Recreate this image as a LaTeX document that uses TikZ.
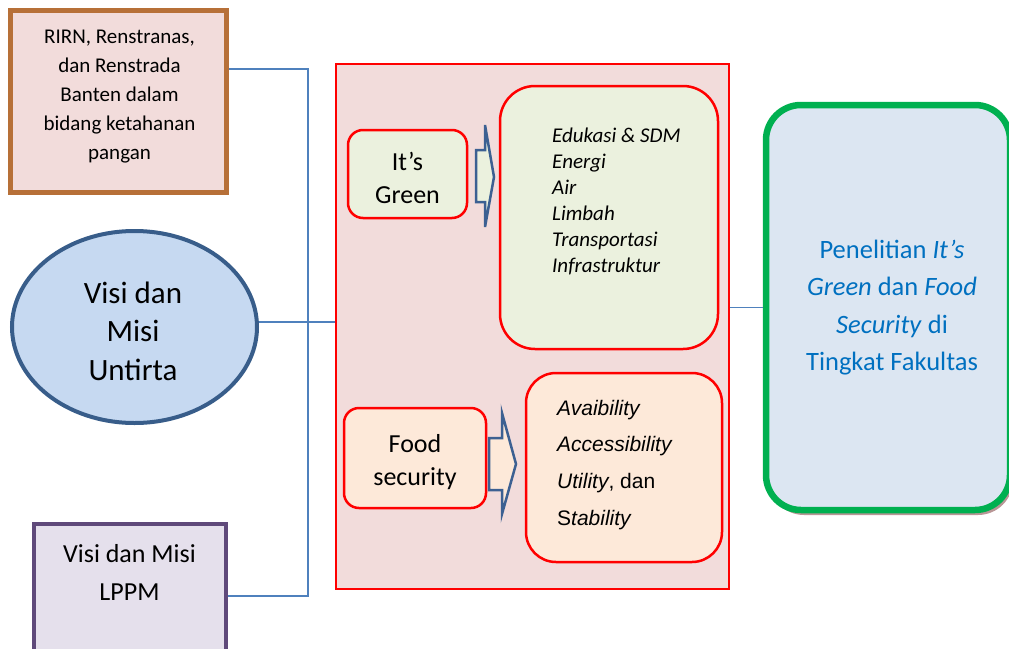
\documentclass[tikz,border=0pt]{standalone}
\usepackage{fontspec}
\setmainfont{Carlito}
\newfontfamily\arialfont{Liberation Sans}
\usetikzlibrary{shapes.geometric}
\definecolor{pinkfill}{RGB}{242,220,219}
\definecolor{brownline}{RGB}{183,112,56}
\definecolor{ellline}{RGB}{56,93,138}
\definecolor{ellfill}{RGB}{198,217,241}
\definecolor{purpline}{RGB}{95,73,122}
\definecolor{purpfill}{RGB}{229,224,236}
\definecolor{connblue}{RGB}{79,129,189}
\definecolor{greenfill}{RGB}{235,241,222}
\definecolor{peachfill}{RGB}{253,233,217}
\definecolor{arrowline}{RGB}{60,96,146}
\definecolor{resgreen}{RGB}{0,176,80}
\definecolor{resfill}{RGB}{220,230,242}
\definecolor{restext}{RGB}{0,112,192}
\definecolor{shadowc}{RGB}{185,150,150}
\newcommand{\ml}[4]{{\fontsize{#1}{#2}\selectfont\begin{tabular}[t]{@{}#3@{}}#4\end{tabular}}}
\tikzset{
  conn/.style={draw=connblue, line width=1.5pt},
  txt/.style={inner sep=0pt, anchor=base},
  txtl/.style={inner sep=0pt, anchor=base west},
  redbox/.style={draw=red, line width=2.5pt, rounded corners=#1, inner sep=0pt},
  blockarrow/.style={draw=arrowline, line width=2.5pt, line join=miter}
}
\begin{document}
\begin{tikzpicture}[x=1pt,y=-1pt]
\useasboundingbox (0,0) rectangle (1009,648);
% left boxes
\node[draw=brownline, fill=pinkfill, line width=5pt, inner sep=0pt,
      minimum width=216pt, minimum height=182pt] (rirn) at (118.5,101.5) {};
\node[txt] (rirnT) at (119.5,43) {\ml{21}{29}{c}{RIRN, Renstranas,\\ dan Renstrada\\ Banten dalam\\ bidang ketahanan\\ pangan}};
\node[ellipse, draw=ellline, fill=ellfill, line width=4pt, inner sep=0pt,
      minimum width=245pt, minimum height=192pt] (untirta) at (134.5,327) {};
\node[txt] (untirtaT) at (133,303) {\ml{31}{38.5}{c}{Visi dan\\ Misi\\ Untirta}};
\node[draw=purpline, fill=purpfill, line width=4pt, inner sep=0pt,
      minimum width=192pt, minimum height=146pt] (lppm) at (130,597) {};
\node[txt] (lppmT) at (129.5,562) {\ml{26}{38}{c}{Visi dan Misi\\ LPPM}};
% connectors on the left
\coordinate (tTop) at (308,69);
\coordinate (tBot) at (308,596);
\node[draw=red, fill=pinkfill, line width=2pt, inner sep=0pt,
      minimum width=393pt, minimum height=525pt] (red) at (532.5,326.5) {};
\draw[conn] (rirn.east |- tTop) -- (tTop) -- (tBot) -- (lppm.east |- tBot);
\coordinate (uE) at ([yshift=5pt]untirta.east);
\draw[conn] (uE) -- (red.west |- uE);
% It's Green
\node[redbox=15pt, fill=greenfill, minimum width=119pt, minimum height=88pt] (green) at (407.5,174) {};
\node[txt] (greenT) at (407.5,170) {\ml{26}{33}{c}{It’s\\ Green}};
\draw[blockarrow, fill=greenfill] (476,150) -- (485,150) -- (485,125) -- (494,177) -- (485,227) -- (485,202) -- (476,202) -- cycle;
\node[redbox=35pt, fill=greenfill, minimum width=218pt, minimum height=263pt] (glist) at (609,217.5) {};
\node[txtl] (glistT) at (552,142) {\ml{21}{26}{l}{\itshape Edukasi \& SDM\\ \itshape Energi\\ \itshape Air\\ \itshape Limbah\\ \itshape Transportasi\\ \itshape Infrastruktur}};
% Food security
\node[redbox=15pt, fill=peachfill, minimum width=142pt, minimum height=100pt] (food) at (415,458) {};
\node[txt] (foodT) at (415,452) {\ml{26}{33}{c}{Food\\ security}};
\draw[blockarrow, fill=peachfill] (489,438) -- (502,438) -- (502,413) -- (516,464) -- (502,514) -- (502,490) -- (489,490) -- cycle;
\node[redbox=30pt, fill=peachfill, minimum width=196pt, minimum height=189pt] (flist) at (624,467.5) {};
\node[txtl] (flistT) at (557,415) {\arialfont\ml{21}{36.7}{l}{\textit{Avaibility}\\ \textit{Accessibility}\\ \textit{Utility}, dan\\ S\textit{tability}}};
% result box
\fill[shadowc, rounded corners=35pt] (769,110) rectangle (1013,515);
\node[draw=resgreen, fill=resfill, line width=6.5pt, rounded corners=35pt, inner sep=0pt,
      minimum width=244pt, minimum height=405pt] (res) at (888,307.5) {};
\node[txt, text=restext] (resT) at (892,258) {\ml{26.5}{37.5}{c}{Penelitian \textit{It’s}\\ \textit{Green} dan \textit{Food}\\ \textit{Security} di\\ Tingkat Fakultas}};
\draw[conn] (red.east |- res.west) -- (res.west);
\end{tikzpicture}
\end{document}
